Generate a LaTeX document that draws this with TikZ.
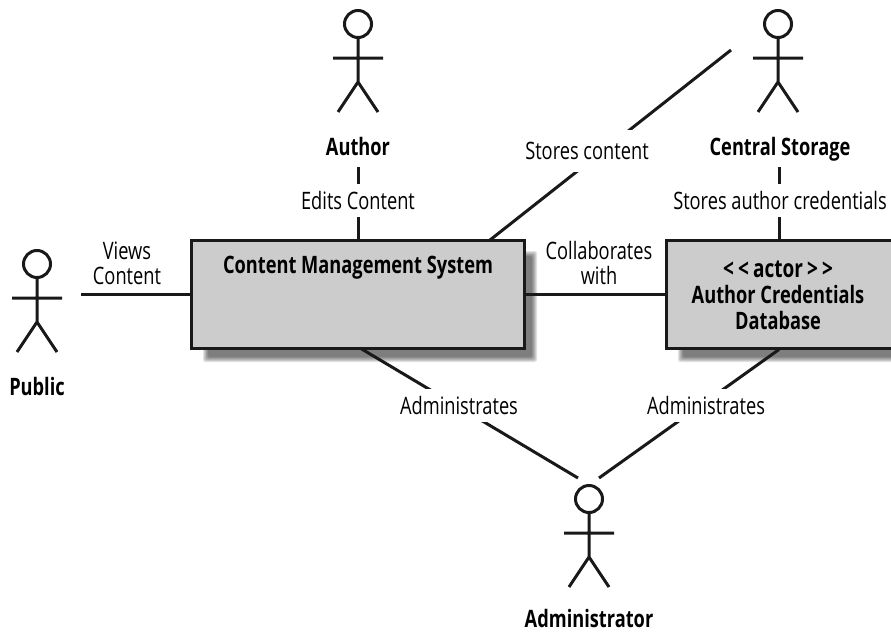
\documentclass[tikz,border=0pt]{standalone}
\usepackage{fontspec}
\setmainfont{Open Sans}
\newfontfamily\cond[FakeStretch=0.76]{Open Sans}
\begin{document}
\begin{tikzpicture}[x=1pt,y=-1pt,
  lbl/.style={font=\cond\fontsize{24}{25}\selectfont,text=black,inner xsep=1pt,inner ysep=0pt,minimum height=33pt,align=center,fill=white},
  twolines/.style={lbl,fill=none,minimum height=0pt},
  actname/.style={font=\cond\bfseries\fontsize{24}{26}\selectfont,inner sep=1pt,align=center},
  box/.style={draw=black!90,line width=3pt,fill=black!20},
  conn/.style={draw=black!90,line width=3pt},
  actorline/.style={draw=black!90,line width=3pt}]
\useasboundingbox (0,0) rectangle (891,632);
\newcommand{\actor}[2]{%
  \draw[actorline,fill=white] (#1,#2) circle (13.5);
  \draw[actorline] (#1,#2+13.5) -- (#1,#2+58) (#1-25,#2+34) -- (#1+25,#2+34)
    (#1-20,#2+88) -- (#1,#2+58) -- (#1+20,#2+88);
}
\newcommand{\softshadow}[4]{%
  \foreach \i in {0,1,...,5} {
    \fill[black,opacity=0.11,rounded corners=2pt] (#1+16-\i,#2+16-\i) rectangle (#3+8+\i,#4+9+\i);
  }
}
\actor{358}{24}
\actor{778}{24}
\actor{37}{264}
\actor{589}{499}
\softshadow{192}{240}{524}{348}
\softshadow{667}{240}{900}{348}
\node[box,minimum width=333pt,minimum height=108pt] (cms) at (358,294) {};
\node[box,minimum width=226pt,minimum height=108pt] (db) at (779,294) {};
\node[actname] (cmst) at (358,268) {Content Management System};
\node[actname] (dbt) at (778,295) {{\cond\fontsize{25}{26}\selectfont\textless\,\textless\,actor\,\textgreater\,\textgreater}\\Author Credentials\\Database};
\node[actname,anchor=base] (author) at (358,155) {Author};
\node[actname,anchor=base] (central) at (780,155) {Central Storage};
\node[actname,anchor=base] (public) at (37,395) {Public};
\node[actname,anchor=base] (admin) at (589,627) {Administrator};
\coordinate (pubr) at (81,294);
\coordinate (adm) at (578,478);
\coordinate (adm2) at (599,478);
\coordinate (cs) at (731,50);
\coordinate (authb) at (358,167);
\coordinate (centb) at (779,167);
\coordinate (centt) at (779,240);
\coordinate (cmstop) at (490,240);
\coordinate (cmsbot) at (360,348);
\draw[conn] (authb) -- (cms.north);
\draw[conn] (centb) -- (centt);
\draw[conn] (pubr) -- (cms.west);
\draw[conn] (cmstop) -- (cs);
\draw[conn] (cms.east) -- (db.west);
\draw[conn] (cmsbot) -- (adm);
\draw[conn] (db.south) -- (adm2);
\node[lbl] (l1) at (358,200) {Edits Content};
\node[lbl,minimum height=42pt] (l2) at (587,151) {Stores content};
\node[lbl] (l3) at (780,200) {Stores author credentials};
\node[twolines] (l4) at (127,263) {Views\\Content};
\node[twolines] (l5) at (599,263) {Collaborates\\with};
\node[lbl] (l6) at (459,405) {Administrates};
\node[lbl] (l7) at (706,405) {Administrates};
\end{tikzpicture}
\end{document}
